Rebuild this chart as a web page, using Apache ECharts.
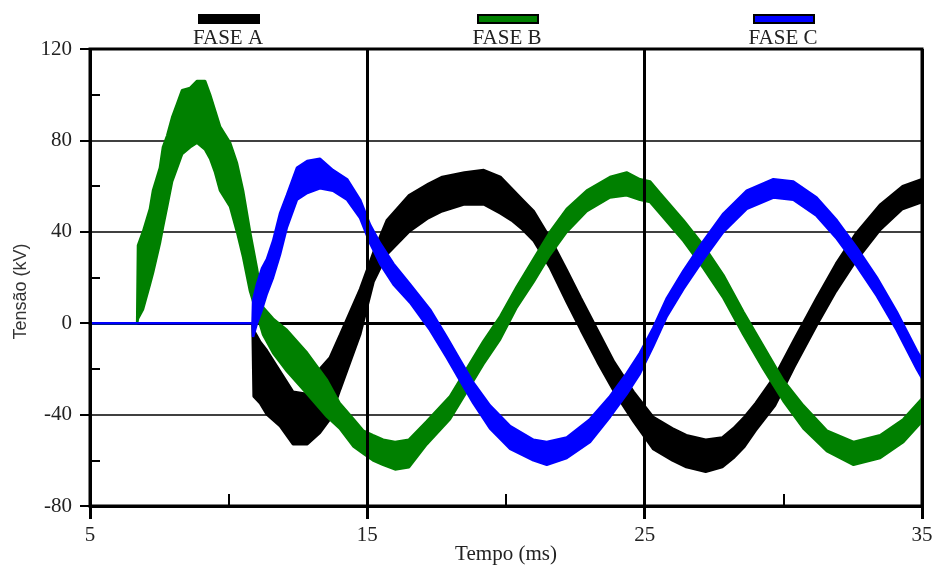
<!DOCTYPE html>
<html><head><meta charset="utf-8">
<script src="https://cdn.jsdelivr.net/npm/echarts@6/dist/echarts.min.js"></script>
<style>html,body{margin:0;padding:0;background:#fff}#c{width:934px;height:565px}</style>
</head><body><div id="c"></div>
<script>
const X_TICKS = [5, 15, 25, 35];
const Y_TICKS = [-80, -40, 0, 40, 80, 120];
const PHASES = ['FASE A', 'FASE B', 'FASE C'];
const COLORS = ['#000000', '#008000', '#0000ff'];

// Phase A (black): time (ms), upper and lower edge of the noisy trace (kV)
const T_A  = [5, 10.86, 10.9, 11.13, 11.38, 11.85, 12.32, 12.83, 13.29, 13.65, 14.02, 14.38, 14.74, 15.22, 15.7, 16.5, 17.2, 17.7, 18.5, 19.2, 19.8, 20.2, 20.6, 21.0, 21.6, 22.2, 22.7, 23.3, 23.9, 24.6, 25.3, 26.0, 26.5, 27.2, 27.8, 28.2, 28.6, 29.0, 29.7, 30.4, 31.2, 31.9, 32.6, 33.5, 34.3, 35.0];
const HI_A = [0, 0, -3, -8, -12, -21, -30, -31, -20, -15, -5, 5, 15, 31, 45, 56, 61, 64, 66, 67, 64, 59, 54, 49, 37, 23, 11, -3, -17, -30, -41, -46, -49, -51, -50, -46, -41, -35, -23, -7, 11, 26, 39, 52, 60, 63];
const LO_A = [0, 0, -32, -35, -40, -45, -53, -53, -48, -42, -29, -17, -5, 18, 30, 40, 46, 49, 52, 52, 48, 45, 41, 36, 24, 9, -3, -17, -30, -43, -55, -60, -63, -65, -63, -59, -54, -47, -36, -19, -1, 14, 27, 41, 50, 53];

// Phase B (green)
const T_B  = [5, 6.7, 6.73, 6.91, 7.16, 7.27, 7.52, 7.63, 7.78, 7.96, 8.14, 8.32, 8.61, 8.86, 9.15, 9.33, 9.51, 9.69, 10.05, 10.3, 10.52, 10.77, 11.02, 11.24, 11.6, 12.1, 12.83, 13.55, 14.0, 14.5, 14.85, 15.2, 15.57, 16.0, 16.5, 17.14, 17.98, 18.58, 19.18, 19.79, 20.39, 20.99, 21.59, 22.19, 22.91, 23.75, 24.35, 24.83, 25.2, 25.55, 26.4, 27.12, 27.84, 28.56, 29.28, 30.0, 30.72, 31.57, 32.53, 33.49, 34.33, 35.0];
const HI_B = [0, 0, 34, 40, 50, 58, 68, 77, 82, 90, 96, 102, 103, 106, 106, 100, 93, 86, 79, 70, 58, 40, 24, 7, 2, -3, -13, -25, -35, -42, -47, -49, -51, -52, -51, -43, -32, -20, -8, 3, 16, 28, 40, 50, 58, 64, 66, 63, 62, 57, 45, 34, 21, 5, -10, -25, -36, -47, -52, -49, -42, -33];
const LO_B = [0, 0, 2, 6, 17, 22, 35, 42, 51, 62, 68, 74, 77, 79, 76, 72, 66, 58, 51, 40, 29, 14, 4, -5, -13, -21, -31, -41, -46, -54, -57, -60, -62, -64, -63, -53, -42, -30, -18, -7, 7, 18, 30, 40, 49, 55, 56, 54, 53, 48, 36, 24, 11, -5, -20, -34, -46, -56, -62, -59, -52, -43];

// Phase C (blue)
const T_C  = [5, 10.86, 10.88, 11.02, 11.2, 11.38, 11.6, 11.85, 12.1, 12.46, 12.83, 13.29, 13.76, 14.27, 14.74, 15.1, 15.46, 15.94, 16.54, 17.26, 17.86, 18.34, 18.82, 19.42, 20.15, 20.99, 21.47, 22.19, 23.03, 23.75, 24.35, 24.83, 25.31, 25.8, 26.4, 27.12, 27.84, 28.68, 29.64, 30.36, 31.2, 31.93, 32.65, 33.37, 34.09, 34.81, 35.0];
const HI_C = [0, 0, 10, 17, 24, 28, 36, 48, 56, 68, 71, 72, 67, 63, 54, 43, 35, 26, 17, 6, -6, -16, -26, -36, -45, -51, -52, -50, -42, -32, -22, -13, -2, 11, 23, 36, 48, 58, 63, 62, 55, 45, 33, 20, 5, -12, -16];
const LO_C = [0, 0, -6, 0, 6, 13, 20, 30, 42, 54, 57, 59, 58, 54, 46, 35, 26, 17, 9, -3, -15, -25, -35, -46, -55, -60, -62, -59, -52, -41, -31, -22, -10, 3, 15, 28, 40, 50, 55, 54, 47, 37, 25, 12, -3, -20, -24];

const SERIF = '"Liberation Serif", "Times New Roman", serif';
const SANS = '"Liberation Sans", Arial, sans-serif';

function band(name, color, T, HI, LO) {
  return {
    type: 'custom', name: name, coordinateSystem: 'cartesian2d',
    xAxisIndex: 0, yAxisIndex: 0,
    itemStyle: { color: color },
    data: [[T[0], HI[0]]],
    renderItem: function (params, api) {
      const pts = [];
      for (let i = 0; i < T.length; i++) pts.push(api.coord([T[i], HI[i]]));
      for (let i = T.length - 1; i >= 0; i--) pts.push(api.coord([T[i], LO[i]]));
      return { type: 'polygon', shape: { points: pts },
        style: { fill: color, stroke: color, lineWidth: 2.5, lineJoin: 'bevel' } };
    }
  };
}

const xMin = X_TICKS[0], xMax = X_TICKS[X_TICKS.length - 1], xInt = X_TICKS[1] - X_TICKS[0];
const yMin = Y_TICKS[0], yMax = Y_TICKS[Y_TICKS.length - 1], yInt = Y_TICKS[1] - Y_TICKS[0];
const LEG_LEFT = [198, 477, 753];
const LEG_TEXT_X = [228, 507, 783];

const chart = echarts.init(document.getElementById('c'), null, { renderer: 'canvas' });
chart.setOption({
  animation: false,
  backgroundColor: '#ffffff',
  grid: { left: 90, right: 12, top: 49, bottom: 59, show: true, borderColor: '#000', borderWidth: 3,
          backgroundColor: 'transparent', outerBoundsMode: 'none' },
  legend: PHASES.map((p, i) => ({
    data: [p], left: LEG_LEFT[i], top: 14, padding: 0, itemGap: 0,
    itemWidth: 60, itemHeight: 8, icon: 'rect', selectedMode: false,
    formatter: function () { return ''; },
    itemStyle: { borderColor: '#000', borderWidth: 2 }
  })),
  graphic: PHASES.map((p, i) => ({
    type: 'text', x: LEG_TEXT_X[i], y: 38,
    style: { text: p, align: 'center', verticalAlign: 'middle', font: '21px ' + SERIF, fill: '#222' }
  })),
  xAxis: [
    { type: 'value', position: 'bottom', min: xMin, max: xMax, interval: xInt, z: 5,
      axisLine: { onZero: false, lineStyle: { color: '#000', width: 3 } },
      axisTick: { show: true, length: 13, lineStyle: { color: '#000', width: 3 } },
      axisLabel: { margin: 19, fontFamily: SERIF, fontSize: 21, color: '#222' },
      splitLine: { show: true, lineStyle: { color: '#000', width: 3 } },
      name: 'Tempo (ms)', nameLocation: 'middle', nameGap: 38, nameMoveOverlap: false,
      nameTextStyle: { fontFamily: SERIF, fontSize: 21, color: '#222' } },
    { type: 'value', position: 'bottom', min: xMin, max: xMax, interval: xInt,
      axisLine: { show: false, onZero: false },
      axisTick: { show: false, inside: true },
      minorTick: { show: true, splitNumber: 2, length: 12, lineStyle: { color: '#000', width: 2 } },
      axisLabel: { show: false }, splitLine: { show: false } },
    { type: 'value', position: 'bottom', min: xMin, max: xMax, interval: xInt,
      axisLine: { show: true, onZero: true, onZeroAxisIndex: 0, lineStyle: { color: '#000', width: 3 } },
      axisTick: { show: false }, axisLabel: { show: false }, splitLine: { show: false } }
  ],
  yAxis: [
    { type: 'value', position: 'left', min: yMin, max: yMax, interval: yInt,
      axisLine: { show: true, lineStyle: { color: '#000', width: 2 } },
      axisTick: { show: true, length: 10, lineStyle: { color: '#000', width: 2 } },
      axisLabel: { margin: 18, fontFamily: SERIF, fontSize: 21, color: '#222' },
      splitLine: { show: true, lineStyle: { color: '#000', width: 1.5 } },
      name: 'Tensão (kV)', nameLocation: 'middle', nameGap: 60, nameMoveOverlap: false,
      nameTextStyle: { fontFamily: SANS, fontSize: 18, color: '#333', padding: [0, 28, 0, 0] } },
    { type: 'value', position: 'left', min: yMin, max: yMax, interval: yInt,
      axisLine: { show: false }, axisTick: { show: false, inside: true },
      minorTick: { show: true, splitNumber: 2, length: 10, lineStyle: { color: '#000', width: 2 } },
      axisLabel: { show: false }, splitLine: { show: false } }
  ],
  series: [
    band(PHASES[0], COLORS[0], T_A, HI_A, LO_A),
    band(PHASES[1], COLORS[1], T_B, HI_B, LO_B),
    band(PHASES[2], COLORS[2], T_C, HI_C, LO_C)
  ]
});
</script>
</body></html>
